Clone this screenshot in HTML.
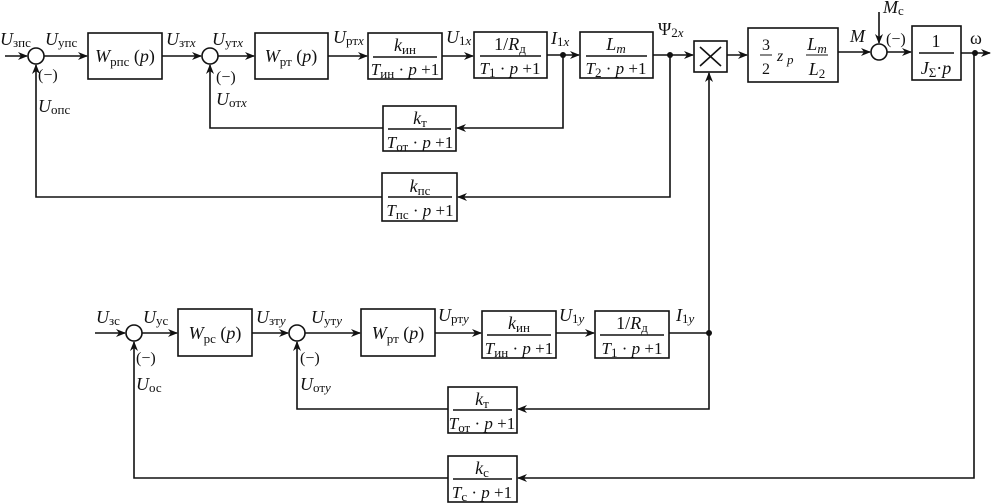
<!DOCTYPE html>
<html><head><meta charset="utf-8"><style>
html,body{margin:0;padding:0;background:#fff;}
svg{display:block;}
text{font-family:"Liberation Serif",serif;font-size:18px;fill:#111;}
.i{font-style:italic;}
.s{font-size:13px;font-style:normal;}
.si{font-size:13px;font-style:italic;}
.d{font-size:17px;}
</style></head><body>
<svg width="992" height="503" viewBox="0 0 992 503" xmlns="http://www.w3.org/2000/svg">
<defs>
<marker id="a" markerWidth="10" markerHeight="8" refX="9" refY="4" orient="auto" markerUnits="userSpaceOnUse">
<path d="M0,0 L10,4 L0,8 L3,4 Z" fill="#111"/></marker>
</defs>
<g stroke="#111" stroke-width="1.6" fill="none">
<line x1="5" y1="56" x2="27" y2="56" marker-end="url(#a)"/>
<circle cx="36" cy="56" r="8"/>
<line x1="44" y1="56" x2="87" y2="56" marker-end="url(#a)"/>
<rect x="88" y="33" width="74" height="46"/>
<line x1="162" y1="56" x2="201" y2="56" marker-end="url(#a)"/>
<circle cx="210" cy="56" r="8"/>
<line x1="218" y1="56" x2="254" y2="56" marker-end="url(#a)"/>
<rect x="255" y="33" width="73" height="46"/>
<line x1="328" y1="56" x2="367" y2="56" marker-end="url(#a)"/>
<rect x="368" y="33" width="74" height="46"/>
<line x1="442" y1="56" x2="473" y2="56" marker-end="url(#a)"/>
<rect x="474" y="32" width="73" height="46"/>
<line x1="547" y1="55" x2="579" y2="55" marker-end="url(#a)"/>
<rect x="580" y="32" width="73" height="46"/>
<line x1="653" y1="55" x2="693" y2="55" marker-end="url(#a)"/>
<rect x="694" y="41" width="33" height="31"/>
<line x1="700" y1="47" x2="721" y2="66"/><line x1="721" y1="47" x2="700" y2="66"/>
<line x1="727" y1="55" x2="747" y2="55" marker-end="url(#a)"/>
<rect x="748" y="28" width="90" height="54"/>
<line x1="838" y1="52" x2="870" y2="52" marker-end="url(#a)"/>
<circle cx="879" cy="52" r="8"/>
<line x1="879" y1="12" x2="879" y2="43" marker-end="url(#a)"/>
<line x1="887" y1="52" x2="911" y2="52" marker-end="url(#a)"/>
<rect x="912" y="26" width="49" height="54"/>
<line x1="961" y1="53" x2="990" y2="53" marker-end="url(#a)"/>
<polyline points="563,55 563,128 457,128" marker-end="url(#a)"/>
<rect x="383" y="106" width="73" height="45"/>
<polyline points="383,128 210,128 210,65" marker-end="url(#a)"/>
<polyline points="670,55 670,197 458,197" marker-end="url(#a)"/>
<rect x="382" y="173" width="75" height="48"/>
<polyline points="382,197 36,197 36,65" marker-end="url(#a)"/>
<line x1="709" y1="333" x2="709" y2="73" marker-end="url(#a)"/>
<line x1="95" y1="333" x2="125" y2="333" marker-end="url(#a)"/>
<circle cx="134" cy="333" r="8"/>
<line x1="142" y1="333" x2="177" y2="333" marker-end="url(#a)"/>
<rect x="178" y="309" width="74" height="47"/>
<line x1="252" y1="333" x2="288" y2="333" marker-end="url(#a)"/>
<circle cx="297" cy="333" r="8"/>
<line x1="305" y1="333" x2="360" y2="333" marker-end="url(#a)"/>
<rect x="361" y="309" width="74" height="47"/>
<line x1="435" y1="333" x2="481" y2="333" marker-end="url(#a)"/>
<rect x="482" y="311" width="74" height="47"/>
<line x1="556" y1="333" x2="594" y2="333" marker-end="url(#a)"/>
<rect x="595" y="311" width="74" height="47"/>
<line x1="669" y1="333" x2="709" y2="333"/>
<polyline points="709,333 709,409 518,409" marker-end="url(#a)"/>
<rect x="448" y="387" width="69" height="46"/>
<polyline points="448,409 297,409 297,342" marker-end="url(#a)"/>
<polyline points="974,53 974,478 518,478" marker-end="url(#a)"/>
<rect x="448" y="456" width="69" height="46"/>
<polyline points="448,478 134,478 134,342" marker-end="url(#a)"/>
<line x1="373" y1="57" x2="437" y2="57"/>
<line x1="480" y1="56" x2="541" y2="56"/>
<line x1="586" y1="56" x2="647" y2="56"/>
<line x1="919" y1="53" x2="954" y2="53"/>
<line x1="388" y1="129" x2="451" y2="129"/>
<line x1="388" y1="197" x2="452" y2="197"/>
<line x1="487" y1="335" x2="551" y2="335"/>
<line x1="600" y1="335" x2="664" y2="335"/>
<line x1="453" y1="410" x2="512" y2="410"/>
<line x1="453" y1="479" x2="512" y2="479"/>
<line x1="760" y1="55" x2="772" y2="55" stroke-width="1"/>
<line x1="806" y1="55" x2="828" y2="55" stroke-width="1"/>
</g>
<g fill="#111">
<circle cx="563" cy="55" r="3"/><circle cx="670" cy="55" r="3"/><circle cx="975" cy="53" r="3"/><circle cx="709" cy="333" r="3"/>
</g>
<text x="125" y="62" text-anchor="middle"><tspan class="i">W</tspan><tspan class="s" dy="4">рпс</tspan><tspan dy="-4"> (</tspan><tspan class="i">p</tspan>)</text>
<text x="291" y="62" text-anchor="middle"><tspan class="i">W</tspan><tspan class="s" dy="4">рт</tspan><tspan dy="-4"> (</tspan><tspan class="i">p</tspan>)</text>
<text x="405" y="51" text-anchor="middle"><tspan class="i">k</tspan><tspan class="s" dy="3">ин</tspan></text>
<text x="405" y="75" text-anchor="middle" class="d"><tspan class="i">T</tspan><tspan class="s" dy="3">ин</tspan><tspan dy="-3"> · </tspan><tspan class="i">p</tspan> +1</text>
<text x="510" y="50" text-anchor="middle">1/<tspan class="i">R</tspan><tspan class="s" dy="3">д</tspan></text>
<text x="510" y="74" text-anchor="middle" class="d"><tspan class="i">T</tspan><tspan class="s" dy="3">1</tspan><tspan dy="-3"> · </tspan><tspan class="i">p</tspan> +1</text>
<text x="616" y="50" text-anchor="middle"><tspan class="i">L</tspan><tspan class="si" dy="3">m</tspan></text>
<text x="616" y="74" text-anchor="middle" class="d"><tspan class="i">T</tspan><tspan class="s" dy="3">2</tspan><tspan dy="-3"> · </tspan><tspan class="i">p</tspan> +1</text>
<text x="766" y="50" text-anchor="middle" style="font-size:16px">3</text>
<text x="766" y="74" text-anchor="middle" style="font-size:16px">2</text>
<text x="777" y="61" class="i" style="font-size:16px">z</text><text x="787" y="64" class="si">p</text>
<text x="817" y="50" text-anchor="middle"><tspan class="i">L</tspan><tspan class="si" dy="3">m</tspan></text>
<text x="817" y="75" text-anchor="middle"><tspan class="i">L</tspan><tspan class="s" dy="3">2</tspan></text>
<text x="936" y="47" text-anchor="middle">1</text>
<text x="936" y="74" text-anchor="middle"><tspan class="i">J</tspan><tspan class="s" dy="3">Σ</tspan><tspan dy="-3">·</tspan><tspan class="i">p</tspan></text>
<text x="420" y="124" text-anchor="middle"><tspan class="i">k</tspan><tspan class="s" dy="3">т</tspan></text>
<text x="420" y="148" text-anchor="middle" class="d"><tspan class="i">T</tspan><tspan class="s" dy="3">от</tspan><tspan dy="-3"> · </tspan><tspan class="i">p</tspan> +1</text>
<text x="420" y="192" text-anchor="middle"><tspan class="i">k</tspan><tspan class="s" dy="3">пс</tspan></text>
<text x="420" y="216" text-anchor="middle" class="d"><tspan class="i">T</tspan><tspan class="s" dy="3">пс</tspan><tspan dy="-3"> · </tspan><tspan class="i">p</tspan> +1</text>
<text x="215" y="339" text-anchor="middle"><tspan class="i">W</tspan><tspan class="s" dy="4">рс</tspan><tspan dy="-4"> (</tspan><tspan class="i">p</tspan>)</text>
<text x="398" y="339" text-anchor="middle"><tspan class="i">W</tspan><tspan class="s" dy="4">рт</tspan><tspan dy="-4"> (</tspan><tspan class="i">p</tspan>)</text>
<text x="519" y="329" text-anchor="middle"><tspan class="i">k</tspan><tspan class="s" dy="3">ин</tspan></text>
<text x="519" y="354" text-anchor="middle" class="d"><tspan class="i">T</tspan><tspan class="s" dy="3">ин</tspan><tspan dy="-3"> · </tspan><tspan class="i">p</tspan> +1</text>
<text x="632" y="329" text-anchor="middle">1/<tspan class="i">R</tspan><tspan class="s" dy="3">д</tspan></text>
<text x="632" y="354" text-anchor="middle" class="d"><tspan class="i">T</tspan><tspan class="s" dy="3">1</tspan><tspan dy="-3"> · </tspan><tspan class="i">p</tspan> +1</text>
<text x="482" y="405" text-anchor="middle"><tspan class="i">k</tspan><tspan class="s" dy="3">т</tspan></text>
<text x="482" y="429" text-anchor="middle" class="d"><tspan class="i">T</tspan><tspan class="s" dy="3">от</tspan><tspan dy="-3"> · </tspan><tspan class="i">p</tspan> +1</text>
<text x="482" y="474" text-anchor="middle"><tspan class="i">k</tspan><tspan class="s" dy="3">с</tspan></text>
<text x="482" y="498" text-anchor="middle" class="d"><tspan class="i">T</tspan><tspan class="s" dy="3">с</tspan><tspan dy="-3"> · </tspan><tspan class="i">p</tspan> +1</text>
<text x="0" y="45"><tspan class="i">U</tspan><tspan class="s" dy="2">зпс</tspan></text>
<text x="45" y="45"><tspan class="i">U</tspan><tspan class="s" dy="2">упс</tspan></text>
<text x="166" y="45"><tspan class="i">U</tspan><tspan class="s" dy="2">зт</tspan><tspan class="si">x</tspan></text>
<text x="212" y="45"><tspan class="i">U</tspan><tspan class="s" dy="2">ут</tspan><tspan class="si">x</tspan></text>
<text x="333" y="43"><tspan class="i">U</tspan><tspan class="s" dy="2">рт</tspan><tspan class="si">x</tspan></text>
<text x="446" y="43"><tspan class="i">U</tspan><tspan class="s" dy="2">1</tspan><tspan class="si">x</tspan></text>
<text x="551" y="44"><tspan class="i">I</tspan><tspan class="s" dy="2">1</tspan><tspan class="si">x</tspan></text>
<text x="658" y="35">Ψ<tspan class="s" dy="2">2</tspan><tspan class="si">x</tspan></text>
<text x="850" y="42" class="i">M</text>
<text x="883" y="13"><tspan class="i">M</tspan><tspan class="s" dy="2">с</tspan></text>
<text x="886" y="44" style="font-size:16px">(−)</text>
<text x="970" y="44">ω</text>
<text x="38" y="80" style="font-size:16px">(−)</text>
<text x="38" y="112"><tspan class="i">U</tspan><tspan class="s" dy="2">опс</tspan></text>
<text x="216" y="82" style="font-size:16px">(−)</text>
<text x="216" y="105"><tspan class="i">U</tspan><tspan class="s" dy="2">от</tspan><tspan class="si">x</tspan></text>
<text x="96" y="323"><tspan class="i">U</tspan><tspan class="s" dy="2">зс</tspan></text>
<text x="143" y="323"><tspan class="i">U</tspan><tspan class="s" dy="2">ус</tspan></text>
<text x="256" y="323"><tspan class="i">U</tspan><tspan class="s" dy="2">зт</tspan><tspan class="si">y</tspan></text>
<text x="311" y="323"><tspan class="i">U</tspan><tspan class="s" dy="2">ут</tspan><tspan class="si">y</tspan></text>
<text x="438" y="321"><tspan class="i">U</tspan><tspan class="s" dy="2">рт</tspan><tspan class="si">y</tspan></text>
<text x="559" y="321"><tspan class="i">U</tspan><tspan class="s" dy="2">1</tspan><tspan class="si">y</tspan></text>
<text x="676" y="321"><tspan class="i">I</tspan><tspan class="s" dy="2">1</tspan><tspan class="si">y</tspan></text>
<text x="136" y="363" style="font-size:16px">(−)</text>
<text x="136" y="390"><tspan class="i">U</tspan><tspan class="s" dy="2">ос</tspan></text>
<text x="300" y="363" style="font-size:16px">(−)</text>
<text x="300" y="390"><tspan class="i">U</tspan><tspan class="s" dy="2">от</tspan><tspan class="si">y</tspan></text>
</svg>
</body></html>
